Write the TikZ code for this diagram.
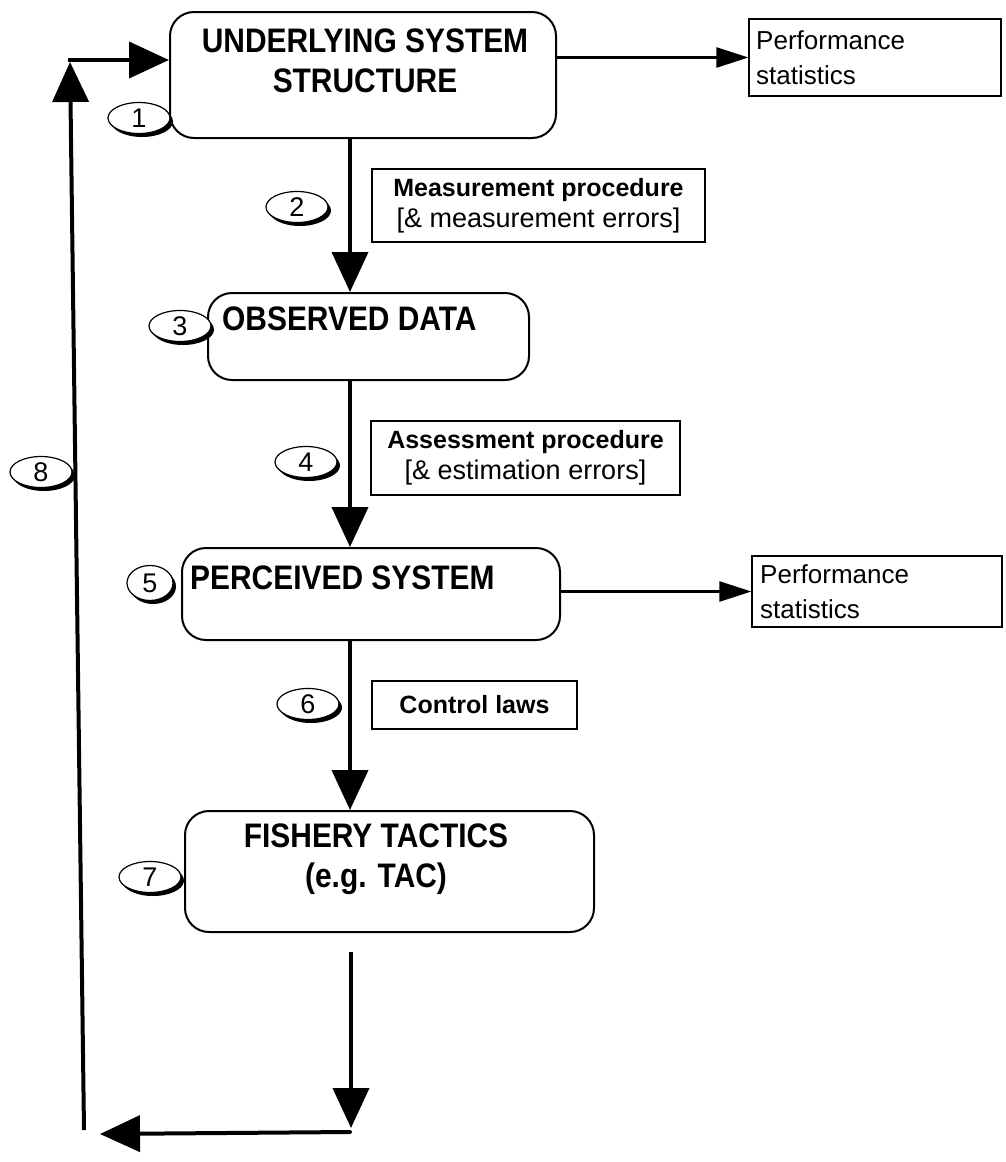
\documentclass[tikz,border=0pt]{standalone}
\usepackage{fontspec}
\setmainfont{Liberation Sans}
\newfontfamily\hdfont[FakeStretch=0.88]{Liberation Sans}
\usetikzlibrary{arrows.meta,shapes.geometric,shadows}
\begin{document}
\begin{tikzpicture}[x=1pt,y=-1pt,
  bigbox/.style={draw,line width=2pt,rounded corners=24pt,inner sep=0pt},
  labbox/.style={draw,line width=1.2pt,inner sep=0pt},
  hdr/.style={inner sep=0pt,font=\hdfont\fontsize{34}{40}\selectfont\bfseries,align=center},
  labtxt/.style={inner sep=0pt,align=center,font=\fontsize{27}{31}\selectfont},
  boldlab/.style={font=\fontsize{25}{31}\selectfont\bfseries},
  perftxt/.style={inner sep=0pt,align=left,anchor=west,font=\fontsize{26}{35}\selectfont},
  numc/.style={draw,ellipse,fill=white,line width=1.2pt,inner sep=0pt,
    minimum width=62pt,minimum height=31pt,font=\fontsize{27}{27}\selectfont,
    general shadow={fill=black,shadow xshift=3pt,shadow yshift=-3.5pt}},
  bigarrow/.style={line width=4pt,-{Triangle[length=40pt,width=36pt]}},
  smallarrow/.style={line width=2.5pt,-{Triangle[length=32pt,width=20pt]}},
]
\useasboundingbox (0,0) rectangle (1006,1162);
\coordinate (spine) at (350,0);

% main boxes
\node[bigbox,minimum width=386pt,minimum height=126pt] (b1) at (363,75) {};
\node[bigbox,minimum width=321pt,minimum height=87pt] (b3) at (368.5,336.5) {};
\node[bigbox,minimum width=378pt,minimum height=92pt] (b5) at (371,594) {};
\node[bigbox,minimum width=409pt,minimum height=121pt] (b7) at (389.5,871.5) {};

\node[hdr] (t1) at (365,61) {UNDERLYING SYSTEM\\STRUCTURE};
\node[hdr,anchor=west] (t3) at (222,319) {OBSERVED DATA};
\node[hdr,anchor=west] (t5) at (190,578) {PERCEIVED SYSTEM};
\node[hdr] (t7) at (376,859) {FISHERY TACTICS\\(e.g. TAC)};

% side label boxes
\node[labbox,minimum width=252pt,minimum height=77pt] (p1) at (875,57.5) {};
\node[perftxt] (p1t) at (756,57.5) {Performance\\statistics};
\node[labbox,minimum width=250pt,minimum height=71pt] (p2) at (877,591.5) {};
\node[perftxt] (p2t) at (760,591.5) {Performance\\statistics};

\node[labbox,minimum width=333pt,minimum height=73pt] (mb) at (538.5,205.5) {};
\node[labtxt] (mt) at (mb) {{\fontsize{25}{31}\selectfont\bfseries Measurement procedure}\\{[}\& measurement errors{]}};
\node[labbox,minimum width=309pt,minimum height=74pt] (ab) at (525.5,458) {};
\node[labtxt] (at) at (ab) {{\fontsize{25}{31}\selectfont\bfseries Assessment procedure}\\{[}\& estimation errors{]}};
\node[labbox,minimum width=205pt,minimum height=48pt] (cb) at (474.5,705) {};
\node[labtxt,boldlab] (ct) at (cb) {Control laws};

% numbered ellipses
\node[numc] (c1) at (139,118) {1};
\node[numc] (c2) at (297,207) {2};
\node[numc] (c3) at (180,326) {3};
\node[numc] (c4) at (306,462) {4};
\node[numc,minimum width=46pt,minimum height=35pt] (c5) at (150,583) {5};
\node[numc] (c6) at (308,704) {6};
\node[numc] (c7) at (150,877) {7};
\node[numc] (c8) at (41,472) {8};

% connectors
\draw[bigarrow] (b1.south -| spine) -- (b3.north -| spine);
\draw[bigarrow] (b3.south -| spine) -- (b5.north -| spine);
\draw[bigarrow] (b5.south -| spine) -- (b7.north -| spine);
\draw[smallarrow] (b1.east |- p1.west) -- (p1.west);
\draw[smallarrow] (b5.east |- p2.west) -- (p2.west);

\coordinate (d1) at (351,952);
\coordinate (d2) at (351,1128);
\coordinate (h1) at (350,1132);
\coordinate (h2) at (100,1134);
\coordinate (v1) at (84,1130);
\coordinate (v2) at (70,62);
\coordinate (u1) at (68,60);
\draw[bigarrow] (d1) -- (d2);
\draw[bigarrow,line cap=round] (h1) -- (h2);
\draw[bigarrow] (v1) -- (v2);
\draw[bigarrow] (u1) -- (b1.west |- u1);
\end{tikzpicture}
\end{document}
